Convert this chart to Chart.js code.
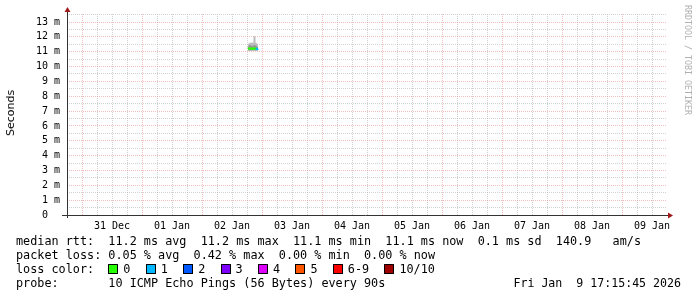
<!DOCTYPE html>
<html>
<head>
<meta charset="utf-8">
<script src="https://cdn.jsdelivr.net/npm/chart.js@4/dist/chart.umd.min.js"></script>
<style>
  html, body { margin: 0; padding: 0; background: #fff; }
  #wrap { position: relative; width: 697px; height: 297px; overflow: hidden; background: #fff; }
  canvas { position: absolute; left: 0; top: 0; }
  .mono { font-family: "DejaVu Sans Mono", monospace; color: #000; white-space: pre; }
  #legend { position: absolute; left: 16px; top: 235px; font-size: 11.8px; line-height: 13.9px; }
  #legend div { height: 13.9px; }
  .sw { display: inline-block; width: 8px; height: 8px; border: 1px solid #000; margin-right: 5px; vertical-align: -1px; }
  .lbl { padding-right: 15.3px; }
  #stamp { position: absolute; right: 16px; top: 276.7px; font-size: 11.6px; line-height: 13.9px; }
  #ylabel { position: absolute; left: 4px; top: 113px; font-family: "DejaVu Sans", sans-serif; font-size: 11px; color: #000;
            transform: translate(0, -50%) rotate(180deg); writing-mode: vertical-rl; white-space: nowrap; }
  #wm { position: absolute; left: 683px; top: 5px; font-family: "DejaVu Sans Mono", monospace; font-size: 8.3px; color: #b0b0b0;
        writing-mode: vertical-rl; white-space: nowrap; letter-spacing: 0px; }
</style>
</head>
<body>
<div id="wrap">
  <canvas id="c" width="697" height="297"></canvas>
  <div id="ylabel">Seconds</div>
  <div id="wm">RRDTOOL / TOBI OETIKER</div>
  <div id="legend" class="mono"></div>
  <div id="stamp" class="mono"></div>
</div>
<script>
// ---- data (x in hours since 31 Dec 00:00, y in milliseconds) ----
const dayLabels = ['31 Dec', '01 Jan', '02 Jan', '03 Jan', '04 Jan', '05 Jan', '06 Jan', '07 Jan', '08 Jan', '09 Jan'];
const sampleHours = [66.4, 66.8, 67.2, 67.6, 68.0, 68.4, 68.8, 69.2, 69.6, 70.0, 70.4];
const medianMs    = [11.21, 11.22, 11.21, 11.20, 11.21, 11.20, 11.22, 11.21, 11.20, 11.19, 11.20];
const smokeLowMs  = [11.06, 11.05, 11.05, 11.04, 11.05, 11.05, 11.06, 11.05, 11.04, 11.05, 11.06];
const smokeHighMs = [11.50, 11.55, 11.60, 11.60, 11.62, 11.60, 12.02, 12.05, 11.60, 11.55, 11.45];
const innerLowMs  = [11.12, 11.12, 11.11, 11.12, 11.12, 11.12, 11.13, 11.12, 11.12, 11.12, 11.13];
const innerHighMs = [11.30, 11.40, 11.45, 11.44, 11.36, 11.38, 11.44, 11.46, 11.40, 11.33, 11.30];
const lossCount   = [0, 0, 0, 0, 0, 0, 0, 0, 0, 1, 1];

const lossLabels = ['0', '1', '2', '3', '4', '5', '6-9', '10/10'];
const lossColors = ['#26ff00', '#00b8ff', '#0059ff', '#7e00ff', '#dd00ff', '#ff5500', '#ff0000', '#a10000'];

const statLine1 = 'median rtt:  11.2 ms avg  11.2 ms max  11.1 ms min  11.1 ms now  0.1 ms sd  140.9   am/s';
const statLine2 = 'packet loss: 0.05 % avg  0.42 % max  0.00 % min  0.00 % now';
const probeLine = 'probe:       10 ICMP Echo Pings (56 Bytes) every 90s';
const stampText = 'Fri Jan  9 17:15:45 2026';

// ---- legend text ----
const leg = document.getElementById('legend');
function row(html) { const d = document.createElement('div'); d.innerHTML = html; leg.appendChild(d); }
const esc = s => s.replace(/&/g, '&amp;').replace(/</g, '&lt;');
row(esc(statLine1));
row(esc(statLine2));
row('loss color:  ' + lossLabels.map((l, i) =>
  '<span class="sw" style="background:' + lossColors[i] + '"></span><span class="lbl">' + esc(l) + '</span>').join(''));
row(esc(probeLine));
document.getElementById('stamp').textContent = stampText;

// ---- chart ----
const pts = arr => sampleHours.map((h, i) => ({ x: h, y: arr[i] }));
const MAJOR = 'rgba(230,125,125,0.5)';
const MINOR = 'rgba(165,165,165,0.5)';

const axisPlugin = {
  id: 'rrdAxes',
  afterDatasetsDraw(chart) {
    const { ctx, chartArea: a } = chart;
    ctx.save();
    ctx.strokeStyle = '#333';
    ctx.lineWidth = 1;
    ctx.beginPath();
    ctx.moveTo(a.left - 5, Math.round(a.bottom) + 0.5);
    ctx.lineTo(a.right + 2, Math.round(a.bottom) + 0.5);
    ctx.moveTo(Math.round(a.left) + 0.5, a.bottom + 3);
    ctx.lineTo(Math.round(a.left) + 0.5, a.top - 2);
    ctx.stroke();
    ctx.fillStyle = '#a01818';
    const xL = Math.round(a.left) + 0.5, yB = Math.round(a.bottom) + 0.5;
    ctx.beginPath();
    ctx.moveTo(xL - 3, a.top - 2); ctx.lineTo(xL + 3, a.top - 2); ctx.lineTo(xL, a.top - 7); ctx.closePath();
    ctx.fill();
    ctx.beginPath();
    ctx.moveTo(a.right + 1, yB - 3); ctx.lineTo(a.right + 1, yB + 3); ctx.lineTo(a.right + 6, yB); ctx.closePath();
    ctx.fill();
    ctx.restore();
  }
};

new Chart(document.getElementById('c'), {
  type: 'line',
  data: {
    datasets: [
      { label: 'median', data: pts(medianMs), stepped: 'middle', borderWidth: 2, pointRadius: 0, fill: false,
        borderColor: lossColors[0],
        segment: { borderColor: c => lossColors[lossCount[c.p1DataIndex]] } },
      { label: 'innerHigh', data: pts(innerHighMs), stepped: 'middle', borderWidth: 0, pointRadius: 0,
        borderColor: 'rgba(0,0,0,0)', backgroundColor: 'rgb(150,150,150)', fill: 2 },
      { label: 'innerLow', data: pts(innerLowMs), stepped: 'middle', borderWidth: 0, pointRadius: 0,
        borderColor: 'rgba(0,0,0,0)', fill: false },
      { label: 'smokeHigh', data: pts(smokeHighMs), stepped: 'middle', borderWidth: 0, pointRadius: 0,
        borderColor: 'rgba(0,0,0,0)', backgroundColor: 'rgb(188,188,188)', fill: 4 },
      { label: 'smokeLow', data: pts(smokeLowMs), stepped: 'middle', borderWidth: 0, pointRadius: 0,
        borderColor: 'rgba(0,0,0,0)', fill: false }
    ]
  },
  options: {
    responsive: false,
    animation: false,
    devicePixelRatio: 1,
    layout: { padding: { left: 0, top: 14, right: 30, bottom: 0 } },
    plugins: { legend: { display: false }, tooltip: { enabled: false } },
    scales: {
      x: {
        type: 'linear', min: -6, max: 234,
        afterFit: s => { s.height = 82; },
        border: { display: false, dash: [1, 1] },
        grid: {
          drawTicks: false, lineWidth: 1,
          color: c => (c.index === 0 || c.tick.value >= 234) ? 'rgba(0,0,0,0)' : (c.tick.value % 24 === 0 ? MAJOR : MINOR)
        },
        ticks: {
          stepSize: 6, autoSkip: false, maxRotation: 0, includeBounds: false, padding: 5,
          color: '#000', font: { family: 'DejaVu Sans Mono', size: 10 },
          callback: v => ((v - 12) % 24 === 0 && v >= 12) ? dayLabels[(v - 12) / 24] : ''
        }
      },
      y: {
        type: 'linear', min: 0, max: 13.54,
        afterFit: s => { s.width = 67; },
        border: { display: false, dash: [1, 1] },
        grid: {
          drawTicks: false, lineWidth: 1,
          color: c => c.tick.value === 0 ? 'rgba(0,0,0,0)' : (Math.abs(c.tick.value % 1) < 1e-9 ? MAJOR : MINOR)
        },
        ticks: {
          stepSize: 0.5, includeBounds: false, padding: 7, autoSkip: false,
          color: '#000', font: { family: 'DejaVu Sans Mono', size: 10 },
          callback: v => v === 0 ? '0  ' : (Math.abs(v % 1) < 1e-9 ? v + ' m' : '')
        }
      }
    }
  },
  plugins: [axisPlugin]
});
</script>
</body>
</html>
